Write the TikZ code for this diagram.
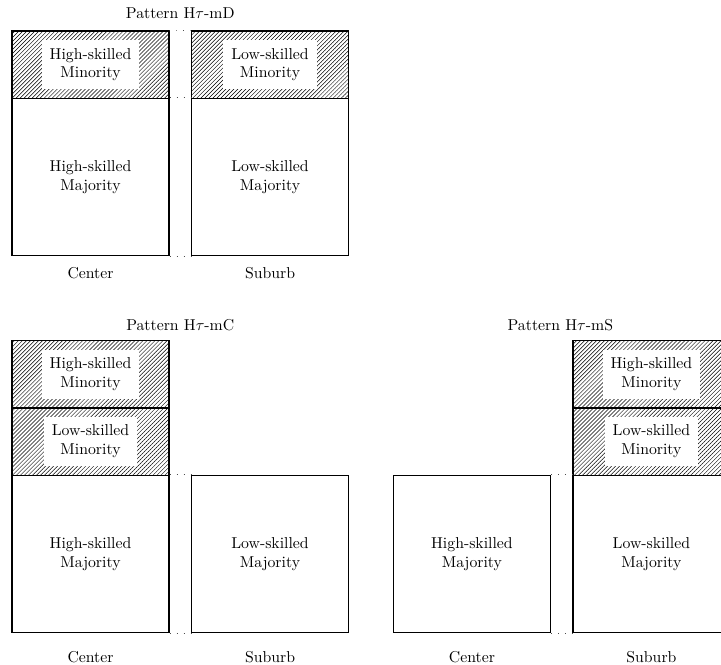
\documentclass[tikz,border=0pt]{standalone}
\usetikzlibrary{patterns.meta}

\tikzset{
  minbox/.style={draw,thick,minimum width=3.5cm,minimum height=1.5cm,inner sep=0pt,
    pattern={Lines[angle=45,distance=1.8pt,line width=0.3pt]}},
  minlab/.style={fill=white,align=center,inner xsep=5pt,inner ysep=5pt},
  majbox/.style={draw,thick,minimum width=3.5cm,minimum height=3.5cm,inner sep=0pt,align=center},
  gap/.style={loosely dotted,black!70}
}

\begin{document}
\begin{tikzpicture}

    \useasboundingbox (-0.2675,-0.713) rectangle (15.8,14.09);

    %%%%%%%%%%%%%%%%%%%%%%%%%%%%%%%%%%%%%%%%%%%%%%%%%%%%%%%%%
    % pattern H tau - mD

    \node (tDt) at (3.75,13.80) {Pattern H$\tau$-mD};

    % center
    \node[minbox] (tDcm) at (1.75,12.65) {};
    \node[minlab] (tDcml) at (tDcm) {High-skilled\\Minority};
    \node[majbox] (tDcM) at (1.75,10.15) {High-skilled\\Majority};
    \node (tDc) at (1.75,8.0) {Center};

    % suburb
    \node[minbox] (tDsm) at (5.75,12.65) {};
    \node[minlab] (tDsml) at (tDsm) {Low-skilled\\Minority};
    \node[majbox] (tDsM) at (5.75,10.15) {Low-skilled\\Majority};
    \node (tDs) at (5.75,8.0) {Suburb};

    \draw[gap] (tDcm.north east) to (tDsm.north west);
    \draw[gap] (tDcM.north east) to (tDsM.north west);
    \draw[gap] (tDcM.south east) to (tDsM.south west);

    %%%%%%%%%%%%%%%%%%%%%%%%%%%%%%%%%%%%%%%%%%%%%%%%%%%%%%%%%
    % pattern H tau - mC

    \node (tCt) at (3.75,6.84) {Pattern H$\tau$-mC};

    % center
    \node[minbox] (tCchm) at (1.75,5.75) {};
    \node[minlab] (tCchml) at (tCchm) {High-skilled\\Minority};
    \node[minbox] (tCclm) at (1.75,4.25) {};
    \node[minlab] (tCclml) at (tCclm) {Low-skilled\\Minority};
    \node[majbox] (tCcM) at (1.75,1.75) {High-skilled\\Majority};
    \node (tCc) at (1.75,-0.56) {Center};

    % suburb
    \node[majbox] (tCsM) at (5.75,1.75) {Low-skilled\\Majority};
    \node (tCs) at (5.75,-0.56) {Suburb};

    \draw[gap] (tCcM.north east) to (tCsM.north west);
    \draw[gap] (tCcM.south east) to (tCsM.south west);

    %%%%%%%%%%%%%%%%%%%%%%%%%%%%%%%%%%%%%%%%%%%%%%%%%%%%%%%%%
    % pattern H tau - mS

    \node (tSt) at (12.22,6.84) {Pattern H$\tau$-mS};

    % center
    \node[majbox] (tScM) at (10.25,1.75) {High-skilled\\Majority};
    \node (tSc) at (10.25,-0.56) {Center};

    % suburb
    \node[minbox] (tSshm) at (14.25,5.75) {};
    \node[minlab] (tSshml) at (tSshm) {High-skilled\\Minority};
    \node[minbox] (tSslm) at (14.25,4.25) {};
    \node[minlab] (tSslml) at (tSslm) {Low-skilled\\Minority};
    \node[majbox] (tSsM) at (14.25,1.75) {Low-skilled\\Majority};
    \node (tSs) at (14.25,-0.56) {Suburb};

    \draw[gap] (tScM.north east) to (tSsM.north west);
    \draw[gap] (tScM.south east) to (tSsM.south west);

\end{tikzpicture}
\end{document}
